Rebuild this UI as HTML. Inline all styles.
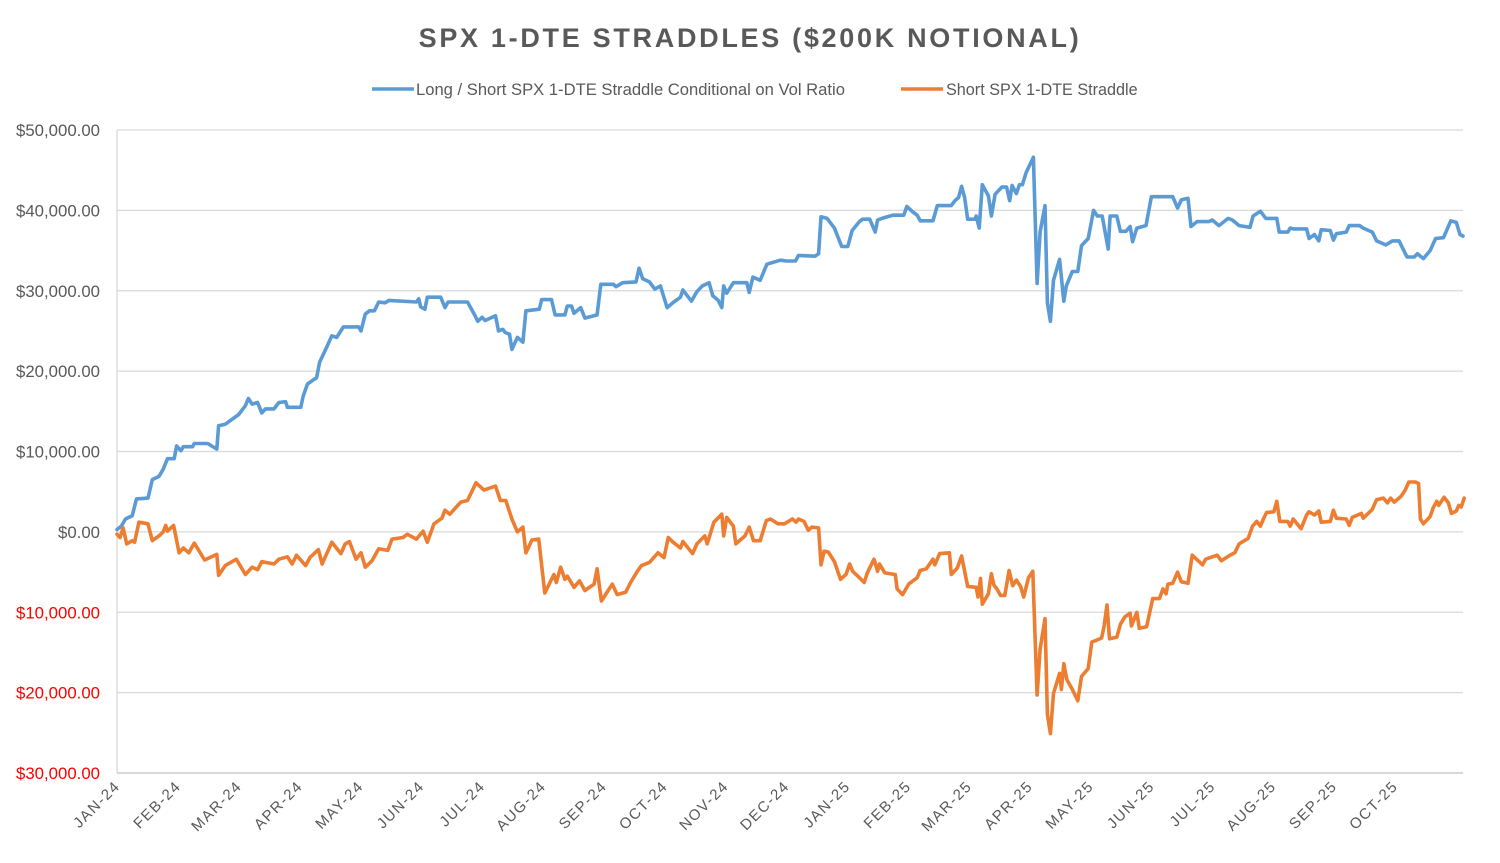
<!DOCTYPE html>
<html><head><meta charset="utf-8"><style>
html,body{margin:0;padding:0;background:#fff;}
svg{display:block;font-family:"Liberation Sans",Arial,sans-serif;}
</style></head><body>
<svg id="chart" width="1500" height="863" viewBox="0 0 1500 863">
<text x="750" y="47" text-anchor="middle" font-size="27" font-weight="bold" fill="#595959" letter-spacing="2.7">SPX 1-DTE STRADDLES ($200K NOTIONAL)</text>
<g>
<line x1="372" y1="89" x2="414" y2="89" stroke="#5B9BD5" stroke-width="3.5"/>
<text x="416" y="95" font-size="16.6" fill="#595959">Long / Short SPX 1-DTE Straddle Conditional on Vol Ratio</text>
<line x1="901" y1="89" x2="943" y2="89" stroke="#ED7D31" stroke-width="3.5"/>
<text x="946" y="95" font-size="16.2" fill="#595959">Short SPX 1-DTE Straddle</text>
</g>
<g id="grid"></g><g id="yl"></g><g id="xl"></g><g id="lines"></g>
</svg>
<script>
const yTicks=[50,40,30,20,10,0,-10,-20,-30];
const yTickLabels=["$50,000.00","$40,000.00","$30,000.00","$20,000.00","$10,000.00","$0.00","$10,000.00","$20,000.00","$30,000.00"];
const months=["JAN-24","FEB-24","MAR-24","APR-24","MAY-24","JUN-24","JUL-24","AUG-24","SEP-24","OCT-24","NOV-24","DEC-24","JAN-25","FEB-25","MAR-25","APR-25","MAY-25","JUN-25","JUL-25","AUG-25","SEP-25","OCT-25"];
const longT=[0,0.07,0.14,0.25,0.32,0.51,0.58,0.69,0.76,0.83,0.94,0.98,1.05,1.09,1.24,1.27,1.49,1.64,1.67,1.78,2.0,2.11,2.16,2.22,2.31,2.38,2.44,2.58,2.66,2.77,2.8,3.02,3.06,3.13,3.28,3.33,3.46,3.53,3.61,3.72,3.97,4.01,4.08,4.15,4.23,4.3,4.41,4.47,4.92,4.96,4.99,5.06,5.1,5.32,5.39,5.44,5.76,5.87,5.93,6.0,6.05,6.22,6.27,6.34,6.38,6.45,6.49,6.58,6.67,6.72,6.94,6.98,7.14,7.2,7.36,7.4,7.47,7.51,7.62,7.69,7.89,7.95,8.16,8.2,8.31,8.53,8.58,8.64,8.75,8.84,8.93,9.04,9.15,9.26,9.3,9.44,9.53,9.62,9.73,9.79,9.88,9.94,9.97,10.02,10.13,10.35,10.39,10.45,10.57,10.68,10.9,11.0,11.15,11.2,11.47,11.53,11.57,11.67,11.79,11.91,12.01,12.08,12.2,12.25,12.37,12.46,12.5,12.57,12.75,12.93,12.98,13.08,13.15,13.2,13.41,13.48,13.71,13.77,13.83,13.88,13.93,13.98,14.1,14.12,14.17,14.22,14.32,14.37,14.43,14.54,14.62,14.67,14.71,14.78,14.83,14.88,14.94,15.06,15.12,15.17,15.25,15.29,15.34,15.39,15.49,15.56,15.6,15.7,15.79,15.85,15.96,16.05,16.11,16.19,16.29,16.32,16.43,16.49,16.58,16.65,16.69,16.76,16.91,17.0,17.35,17.43,17.49,17.6,17.65,17.75,17.94,18.0,18.11,18.26,18.33,18.44,18.62,18.67,18.79,18.88,19.06,19.1,19.24,19.28,19.33,19.55,19.59,19.68,19.75,19.79,19.94,19.99,20.04,20.2,20.25,20.42,20.48,20.63,20.7,20.85,20.96,21.07,21.2,21.32,21.37,21.47,21.58,21.67,21.8,21.92,22.01,22.07,22.12];
const longV=[0.3,0.7,1.6,2.0,4.1,4.2,6.5,6.9,7.8,9.1,9.1,10.7,10.1,10.6,10.6,11.0,11.0,10.3,13.2,13.4,14.6,15.7,16.6,15.9,16.1,14.8,15.3,15.3,16.1,16.2,15.5,15.5,16.9,18.4,19.2,21.1,23.2,24.4,24.2,25.5,25.5,25.0,27.1,27.5,27.5,28.6,28.5,28.8,28.6,29.0,28.0,27.7,29.2,29.2,27.9,28.6,28.6,27.1,26.2,26.7,26.3,26.9,25.0,25.2,24.8,24.6,22.7,24.2,23.6,27.5,27.7,28.9,28.9,27.0,27.0,28.1,28.1,27.2,27.9,26.6,27.0,30.8,30.8,30.5,31.0,31.1,32.8,31.5,31.1,30.2,30.6,27.9,28.6,29.2,30.1,28.7,29.9,30.6,31.0,29.4,28.8,27.9,30.6,29.7,31.0,31.0,29.8,31.7,31.3,33.3,33.8,33.7,33.7,34.4,34.3,34.6,39.2,39.0,37.8,35.5,35.5,37.5,38.6,38.9,38.9,37.3,38.8,39.0,39.4,39.4,40.5,39.8,39.4,38.7,38.7,40.6,40.6,41.2,41.6,43.0,41.6,38.9,38.9,39.3,37.8,43.2,41.8,39.3,42.0,42.9,42.9,41.2,43.1,42.1,43.2,43.2,44.7,46.6,30.9,37.3,40.6,28.5,26.2,31.3,33.9,28.7,30.6,32.4,32.4,35.6,36.5,40.0,39.3,39.3,35.2,39.3,39.3,37.4,37.4,38.0,36.1,37.8,38.1,41.7,41.7,40.3,41.3,41.5,38.0,38.6,38.6,38.8,38.1,39.0,38.8,38.1,37.9,39.3,39.9,39.0,39.0,37.3,37.3,37.8,37.7,37.7,36.5,37.0,36.2,37.6,37.5,36.3,37.1,37.3,38.1,38.1,37.8,37.3,36.2,35.7,36.2,36.2,34.2,34.2,34.6,34.0,35.0,36.5,36.6,38.7,38.5,37.0,36.8];
const shortT=[0,0.05,0.1,0.16,0.25,0.29,0.36,0.51,0.58,0.69,0.76,0.8,0.83,0.93,1.02,1.09,1.18,1.27,1.44,1.64,1.67,1.78,1.96,2.11,2.22,2.31,2.38,2.58,2.66,2.8,2.88,2.95,3.1,3.17,3.31,3.37,3.53,3.68,3.75,3.82,3.93,4.01,4.08,4.19,4.3,4.45,4.52,4.7,4.77,4.92,5.03,5.1,5.21,5.34,5.39,5.47,5.65,5.76,5.9,6.03,6.22,6.3,6.39,6.49,6.58,6.67,6.72,6.82,6.93,7.03,7.18,7.22,7.29,7.36,7.4,7.51,7.6,7.69,7.84,7.89,7.96,8.14,8.22,8.36,8.44,8.55,8.62,8.75,8.89,8.99,9.06,9.14,9.26,9.3,9.46,9.53,9.66,9.7,9.81,9.94,9.97,10.02,10.13,10.17,10.32,10.39,10.46,10.57,10.67,10.74,10.86,10.97,11.1,11.16,11.2,11.29,11.36,11.42,11.53,11.57,11.62,11.69,11.79,11.89,11.98,12.04,12.09,12.2,12.28,12.33,12.44,12.5,12.53,12.62,12.79,12.82,12.91,13.01,13.15,13.2,13.3,13.41,13.44,13.52,13.68,13.71,13.81,13.88,13.98,14.12,14.15,14.19,14.22,14.32,14.37,14.41,14.46,14.52,14.59,14.66,14.72,14.78,14.85,14.9,14.98,15.05,15.12,15.17,15.25,15.29,15.34,15.39,15.49,15.52,15.56,15.61,15.7,15.79,15.85,15.96,16.02,16.09,16.18,16.22,16.27,16.31,16.43,16.49,16.56,16.65,16.67,16.76,16.8,16.92,17.02,17.13,17.19,17.24,17.27,17.35,17.43,17.49,17.6,17.67,17.84,17.89,18.08,18.15,18.29,18.37,18.44,18.59,18.66,18.73,18.79,18.84,18.89,19.01,19.06,19.11,19.24,19.28,19.33,19.46,19.55,19.59,19.68,19.75,19.79,19.94,19.99,20.04,20.2,20.25,20.3,20.45,20.48,20.63,20.7,20.81,20.88,20.93,20.99,21.1,21.17,21.23,21.34,21.39,21.42,21.47,21.58,21.63,21.69,21.72,21.81,21.88,21.93,22.01,22.05,22.09,22.14];
const shortV=[-0.3,-0.7,0.5,-1.5,-1.1,-1.3,1.2,1.0,-1.1,-0.5,0,0.8,0.1,0.8,-2.6,-2.0,-2.6,-1.4,-3.5,-2.8,-5.4,-4.2,-3.4,-5.3,-4.4,-4.7,-3.7,-4.0,-3.4,-3.1,-4.0,-2.9,-4.2,-3.2,-2.2,-4.0,-1.3,-2.7,-1.5,-1.2,-3.4,-2.6,-4.4,-3.6,-2.1,-2.3,-0.9,-0.7,-0.3,-0.9,0.1,-1.3,1.0,1.7,2.7,2.2,3.7,3.9,6.1,5.2,5.7,3.9,3.9,1.6,0,0.6,-2.6,-1.0,-0.9,-7.6,-5.3,-6.3,-4.4,-5.9,-5.5,-6.9,-6.1,-7.3,-6.5,-4.6,-8.6,-6.5,-7.8,-7.5,-6.3,-4.9,-4.2,-3.8,-2.6,-3.2,-0.7,-1.3,-2.0,-1.2,-2.7,-1.5,-0.5,-1.5,1.2,2.2,-0.5,1.8,0.7,-1.5,-0.5,0.6,-1.1,-1.1,1.4,1.6,1.0,1.0,1.6,1.2,1.6,1.3,0.2,0.6,0.5,-4.1,-2.4,-2.5,-3.7,-5.9,-5.3,-4.0,-4.9,-5.7,-6.3,-5.1,-3.4,-4.9,-4.0,-5.1,-5.3,-7.1,-7.8,-6.5,-5.7,-4.8,-4.6,-3.4,-4.1,-2.7,-2.6,-5.3,-4.5,-3.0,-6.8,-6.9,-8.1,-5.8,-9.0,-7.7,-5.2,-6.6,-7.1,-7.9,-7.9,-4.8,-6.7,-6.0,-6.8,-8.1,-5.7,-4.9,-20.3,-14.6,-10.8,-22.7,-25.1,-20.1,-17.6,-19.6,-16.4,-18.4,-19.6,-21.0,-18.0,-17.0,-13.7,-13.5,-13.2,-11.8,-9.1,-13.3,-13.1,-11.5,-10.6,-10.1,-11.7,-10.0,-12.0,-11.8,-8.3,-8.3,-7.1,-7.7,-6.5,-6.4,-5.0,-6.2,-6.4,-2.9,-4.1,-3.4,-2.9,-3.6,-2.9,-2.6,-1.5,-0.8,0.7,1.3,0.7,1.6,2.4,2.5,3.8,1.3,1.3,0.7,1.6,0.4,2.1,2.5,2.1,2.6,1.2,1.3,2.7,1.7,1.6,0.8,1.8,2.3,1.7,2.8,4.0,4.2,3.6,4.2,3.7,4.4,5.2,6.2,6.2,6.0,1.6,1.0,1.9,3.0,3.8,3.3,4.3,3.6,2.3,2.6,3.3,3.1,4.2];

const NS="http://www.w3.org/2000/svg";
const X0=117,X1=1463,Y0=130,Y1=773;
function xS(m){return X0+m*(X1-X0)/22.12;}
function yS(v){return Y1-(v+30)*(Y1-Y0)/80;}
function mk(tag,attrs,parent){const e=document.createElementNS(NS,tag);for(const k in attrs)e.setAttribute(k,attrs[k]);parent.appendChild(e);return e;}
const grid=document.getElementById('grid'),yl=document.getElementById('yl'),xl=document.getElementById('xl'),lines=document.getElementById('lines');
yTicks.forEach((t,i)=>{
  const y=yS(t);
  const g=mk('line',{x1:X0,x2:X1,y1:y,y2:y,stroke:t===-30?'#bfbfbf':'#d9d9d9','stroke-width':1.3},grid);
  
  
  const tx=mk('text',{x:100,y:y+6,'text-anchor':'end','font-size':16.8,fill:t<0?'#FF0000':'#595959'},yl);
  tx.textContent=yTickLabels[i];
  
  
});
const ax=mk('line',{x1:X0,x2:X0,y1:Y0,y2:Y1,stroke:'#d9d9d9','stroke-width':1.3},grid);


months.forEach((mo,i)=>{
  const x=xS(i)+4, y=Y1+14;
  const tx=mk('text',{x:x,y:y,'text-anchor':'end','font-size':15,fill:'#595959','letter-spacing':'1.5',transform:`rotate(-45 ${x} ${y})`},xl);
  tx.textContent=mo;
  
  
});
function draw(T,V,color,name){
  const d=T.map((t,i)=>(i?'L':'M')+xS(t).toFixed(1)+','+yS(V[i]).toFixed(1)).join('');
  const p=mk('path',{d:d,fill:'none',stroke:color,'stroke-width':3.6,'stroke-linejoin':'round','stroke-linecap':'round'},lines);
  
  
}
draw(longT,longV,'#5B9BD5','long-short-straddle-line');
draw(shortT,shortV,'#ED7D31','short-straddle-line');
</script>
</body></html>
